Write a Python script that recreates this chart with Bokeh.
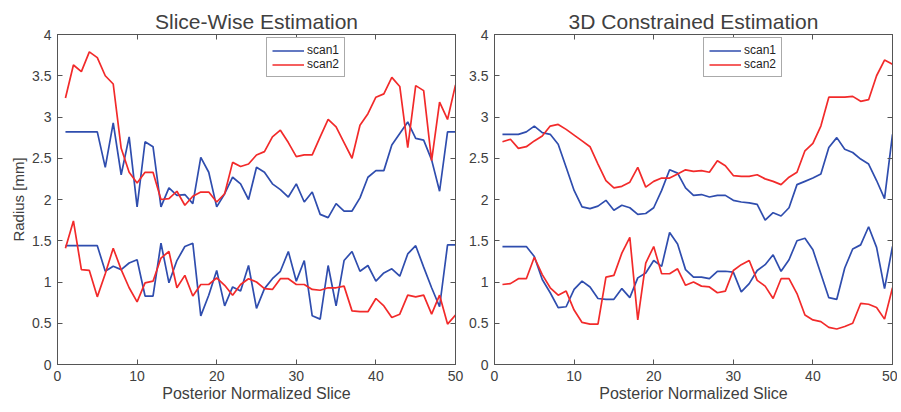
from bokeh.plotting import figure
from bokeh.layouts import row
from bokeh.models import (LinearAxis, Range1d, FixedTicker, Legend, LegendItem,
                          CustomJSTickFormatter)
from bokeh.embed import file_html
from bokeh.resources import INLINE

# ---------------- data ----------------
slices = list(range(1, 51))

sw_scan1_upper = [2.82, 2.82, 2.82, 2.82, 2.82, 2.39, 2.93, 2.30, 2.76, 1.91,
                  2.70, 2.64, 1.91, 2.14, 2.05, 2.06, 1.95, 2.51, 2.33, 1.91,
                  2.07, 2.27, 2.19, 2.00, 2.39, 2.33, 2.19, 2.12, 2.03, 2.19,
                  1.97, 2.09, 1.82, 1.78, 1.95, 1.86, 1.86, 2.02, 2.27, 2.35,
                  2.35, 2.66, 2.80, 2.94, 2.74, 2.72, 2.48, 2.10, 2.82, 2.82]
sw_scan2_upper = [3.23, 3.63, 3.55, 3.79, 3.72, 3.50, 3.40, 2.62, 2.33, 2.20,
                  2.33, 2.33, 2.00, 2.01, 2.10, 1.93, 2.04, 2.09, 2.09, 1.97,
                  2.07, 2.45, 2.40, 2.43, 2.54, 2.58, 2.76, 2.84, 2.69, 2.52,
                  2.54, 2.54, 2.76, 2.97, 2.88, 2.69, 2.50, 2.90, 3.04, 3.24,
                  3.28, 3.48, 3.37, 2.63, 3.38, 3.32, 2.47, 3.18, 2.97, 3.39]
sw_scan1_lower = [1.44, 1.44, 1.44, 1.44, 1.44, 1.13, 1.19, 1.15, 1.23, 1.27,
                  0.83, 0.83, 1.47, 0.99, 1.26, 1.43, 1.47, 0.59, 0.84, 1.14,
                  0.71, 0.94, 0.89, 1.20, 0.68, 0.92, 1.04, 1.13, 1.37, 1.01,
                  1.26, 0.59, 0.55, 1.20, 0.71, 1.26, 1.37, 1.13, 1.20, 1.01,
                  1.11, 1.16, 1.07, 1.34, 1.44, 1.18, 0.93, 0.70, 1.45, 1.45]
sw_scan2_lower = [1.41, 1.74, 1.15, 1.14, 0.82, 1.10, 1.41, 1.15, 0.93, 0.76,
                  0.99, 1.01, 1.29, 1.37, 0.93, 1.08, 0.83, 0.97, 0.97, 1.05,
                  0.96, 0.84, 0.97, 1.04, 1.00, 0.92, 0.91, 1.04, 1.04, 0.97,
                  0.97, 0.91, 0.90, 0.93, 0.93, 0.95, 0.65, 0.64, 0.64, 0.80,
                  0.71, 0.57, 0.61, 0.84, 0.82, 0.84, 0.61, 0.84, 0.49, 0.60]

c3d_scan1_upper = [2.79, 2.79, 2.79, 2.82, 2.89, 2.81, 2.79, 2.67, 2.39, 2.11,
                   1.91, 1.89, 1.92, 1.99, 1.87, 1.93, 1.90, 1.82, 1.83, 1.90,
                   2.11, 2.36, 2.32, 2.14, 2.05, 2.06, 2.03, 2.05, 2.05, 1.99,
                   1.97, 1.96, 1.94, 1.75, 1.84, 1.80, 1.90, 2.18, 2.22, 2.26,
                   2.31, 2.63, 2.75, 2.61, 2.57, 2.49, 2.43, 2.23, 2.01, 2.79]
c3d_scan2_upper = [2.70, 2.73, 2.62, 2.64, 2.71, 2.77, 2.89, 2.91, 2.85, 2.78,
                   2.71, 2.64, 2.43, 2.23, 2.14, 2.16, 2.21, 2.39, 2.15, 2.22,
                   2.26, 2.26, 2.31, 2.36, 2.34, 2.35, 2.33, 2.47, 2.41, 2.29,
                   2.28, 2.28, 2.30, 2.25, 2.22, 2.18, 2.27, 2.33, 2.59, 2.68,
                   2.89, 3.24, 3.24, 3.24, 3.25, 3.19, 3.21, 3.50, 3.69, 3.64]
c3d_scan1_lower = [1.43, 1.43, 1.43, 1.43, 1.31, 1.03, 0.87, 0.69, 0.70, 0.91,
                   1.01, 0.94, 0.80, 0.79, 0.79, 0.92, 0.81, 1.05, 1.11, 1.26,
                   1.19, 1.60, 1.46, 1.15, 1.06, 1.06, 1.04, 1.13, 1.13, 1.12,
                   0.88, 0.98, 1.14, 1.21, 1.33, 1.13, 1.27, 1.50, 1.53, 1.39,
                   1.10, 0.81, 0.79, 1.17, 1.40, 1.45, 1.67, 1.42, 0.92, 1.43]
c3d_scan2_lower = [0.97, 0.98, 1.04, 1.04, 1.30, 1.09, 0.93, 0.84, 0.89, 0.66,
                   0.51, 0.49, 0.49, 1.06, 1.08, 1.35, 1.54, 0.54, 1.23, 1.43,
                   1.10, 1.10, 1.16, 0.96, 1.00, 0.95, 0.94, 0.87, 0.89, 1.14,
                   1.21, 1.26, 1.02, 0.95, 0.80, 1.04, 1.04, 0.86, 0.60, 0.54,
                   0.52, 0.45, 0.43, 0.46, 0.50, 0.74, 0.73, 0.69, 0.55, 0.93]

x_ticks = [0, 10, 20, 30, 40, 50]
x_tick_labels = ["0", "10", "20", "30", "40", "50"]
y_ticks = [0, 0.5, 1, 1.5, 2, 2.5, 3, 3.5, 4]
y_tick_labels = ["0", "0.5", "1", "1.5", "2", "2.5", "3", "3.5", "4"]
series_names = ["scan1", "scan2"]

# ---------------- style ----------------
BLUE = "#2F4DAE"
RED = "#F22A2A"
TEXT = "#404040"
LINE = "#555555"
FONT = "Liberation Sans"
LW = 1.7


def style_axis(ax, ticks, labels=None, label_size="14px"):
    ax.ticker = FixedTicker(ticks=ticks, minor_ticks=[])
    ax.major_tick_in = 5
    ax.major_tick_out = 0
    ax.major_tick_line_color = LINE
    ax.axis_line_color = LINE
    ax.minor_tick_line_color = None
    ax.major_label_text_font = FONT
    ax.major_label_text_color = TEXT
    ax.major_label_text_font_size = label_size
    if labels is not None:
        ax.major_label_overrides = dict(zip(ticks, labels))


def blank_axis(ticks):
    ax = LinearAxis()
    style_axis(ax, ticks, label_size="1px")
    ax.formatter = CustomJSTickFormatter(code="return ''")
    ax.major_label_standoff = 0
    return ax


def make_panel(title, up1, lo1, up2, lo2, ylabel, min_left, min_right):
    p = figure(frame_width=398, frame_height=330,
               x_range=Range1d(0, 50), y_range=Range1d(0, 4),
               output_backend="svg", toolbar_location=None,
               min_border_left=min_left, min_border_right=min_right,
               min_border_top=34, min_border_bottom=44)
    p.title.text = title
    p.title.text_font = FONT
    p.title.text_font_size = "21px"
    p.title.text_font_style = "normal"
    p.title.text_color = TEXT
    p.title.align = "center"
    p.title.standoff = 4
    p.title.offset = 0

    p.grid.visible = False
    p.outline_line_color = LINE
    p.outline_line_width = 1
    p.background_fill_color = "white"
    p.border_fill_color = "white"

    style_axis(p.xaxis[0], x_ticks, x_tick_labels)
    style_axis(p.yaxis[0], y_ticks, y_tick_labels)
    p.xaxis.major_label_standoff = 6
    p.yaxis.major_label_standoff = 6
    p.xaxis.axis_label = "Posterior Normalized Slice"
    p.xaxis.axis_label_text_font = FONT
    p.xaxis.axis_label_text_font_size = "16px"
    p.xaxis.axis_label_text_font_style = "normal"
    p.xaxis.axis_label_text_color = TEXT
    p.xaxis.axis_label_standoff = 1
    if ylabel:
        p.yaxis.axis_label = ylabel
        p.yaxis.axis_label_text_font = FONT
        p.yaxis.axis_label_text_font_size = "15px"
        p.yaxis.axis_label_text_font_style = "normal"
        p.yaxis.axis_label_text_color = TEXT
        p.yaxis.axis_label_standoff = 2

    p.add_layout(blank_axis(x_ticks), "above")
    p.add_layout(blank_axis(y_ticks), "right")

    r1 = p.line(slices, up1, line_color=BLUE, line_width=LW)
    p.line(slices, lo1, line_color=BLUE, line_width=LW)
    r2 = p.line(slices, up2, line_color=RED, line_width=LW)
    p.line(slices, lo2, line_color=RED, line_width=LW)

    legend = Legend(items=[LegendItem(label=series_names[0], renderers=[r1]),
                           LegendItem(label=series_names[1], renderers=[r2])],
                    location=(209, 287))
    legend.label_text_font = FONT
    legend.label_text_font_size = "12px"
    legend.label_text_color = "#222222"
    legend.glyph_width = 32
    legend.glyph_height = 13
    legend.label_height = 13
    legend.label_standoff = 3
    legend.padding = 5
    legend.spacing = 0
    legend.margin = 0
    legend.border_line_color = LINE
    legend.border_line_width = 1
    legend.background_fill_color = "white"
    legend.background_fill_alpha = 1
    p.add_layout(legend)
    return p


p1 = make_panel("Slice-Wise Estimation", sw_scan1_upper, sw_scan1_lower,
                sw_scan2_upper, sw_scan2_lower, "Radius [mm]", 57, 11)
p2 = make_panel("3D Constrained Estimation", c3d_scan1_upper, c3d_scan1_lower,
                c3d_scan2_upper, c3d_scan2_lower, None, 27, 5)

layout = row(p1, p2)
open("out.html", "w").write(file_html(layout, INLINE))
